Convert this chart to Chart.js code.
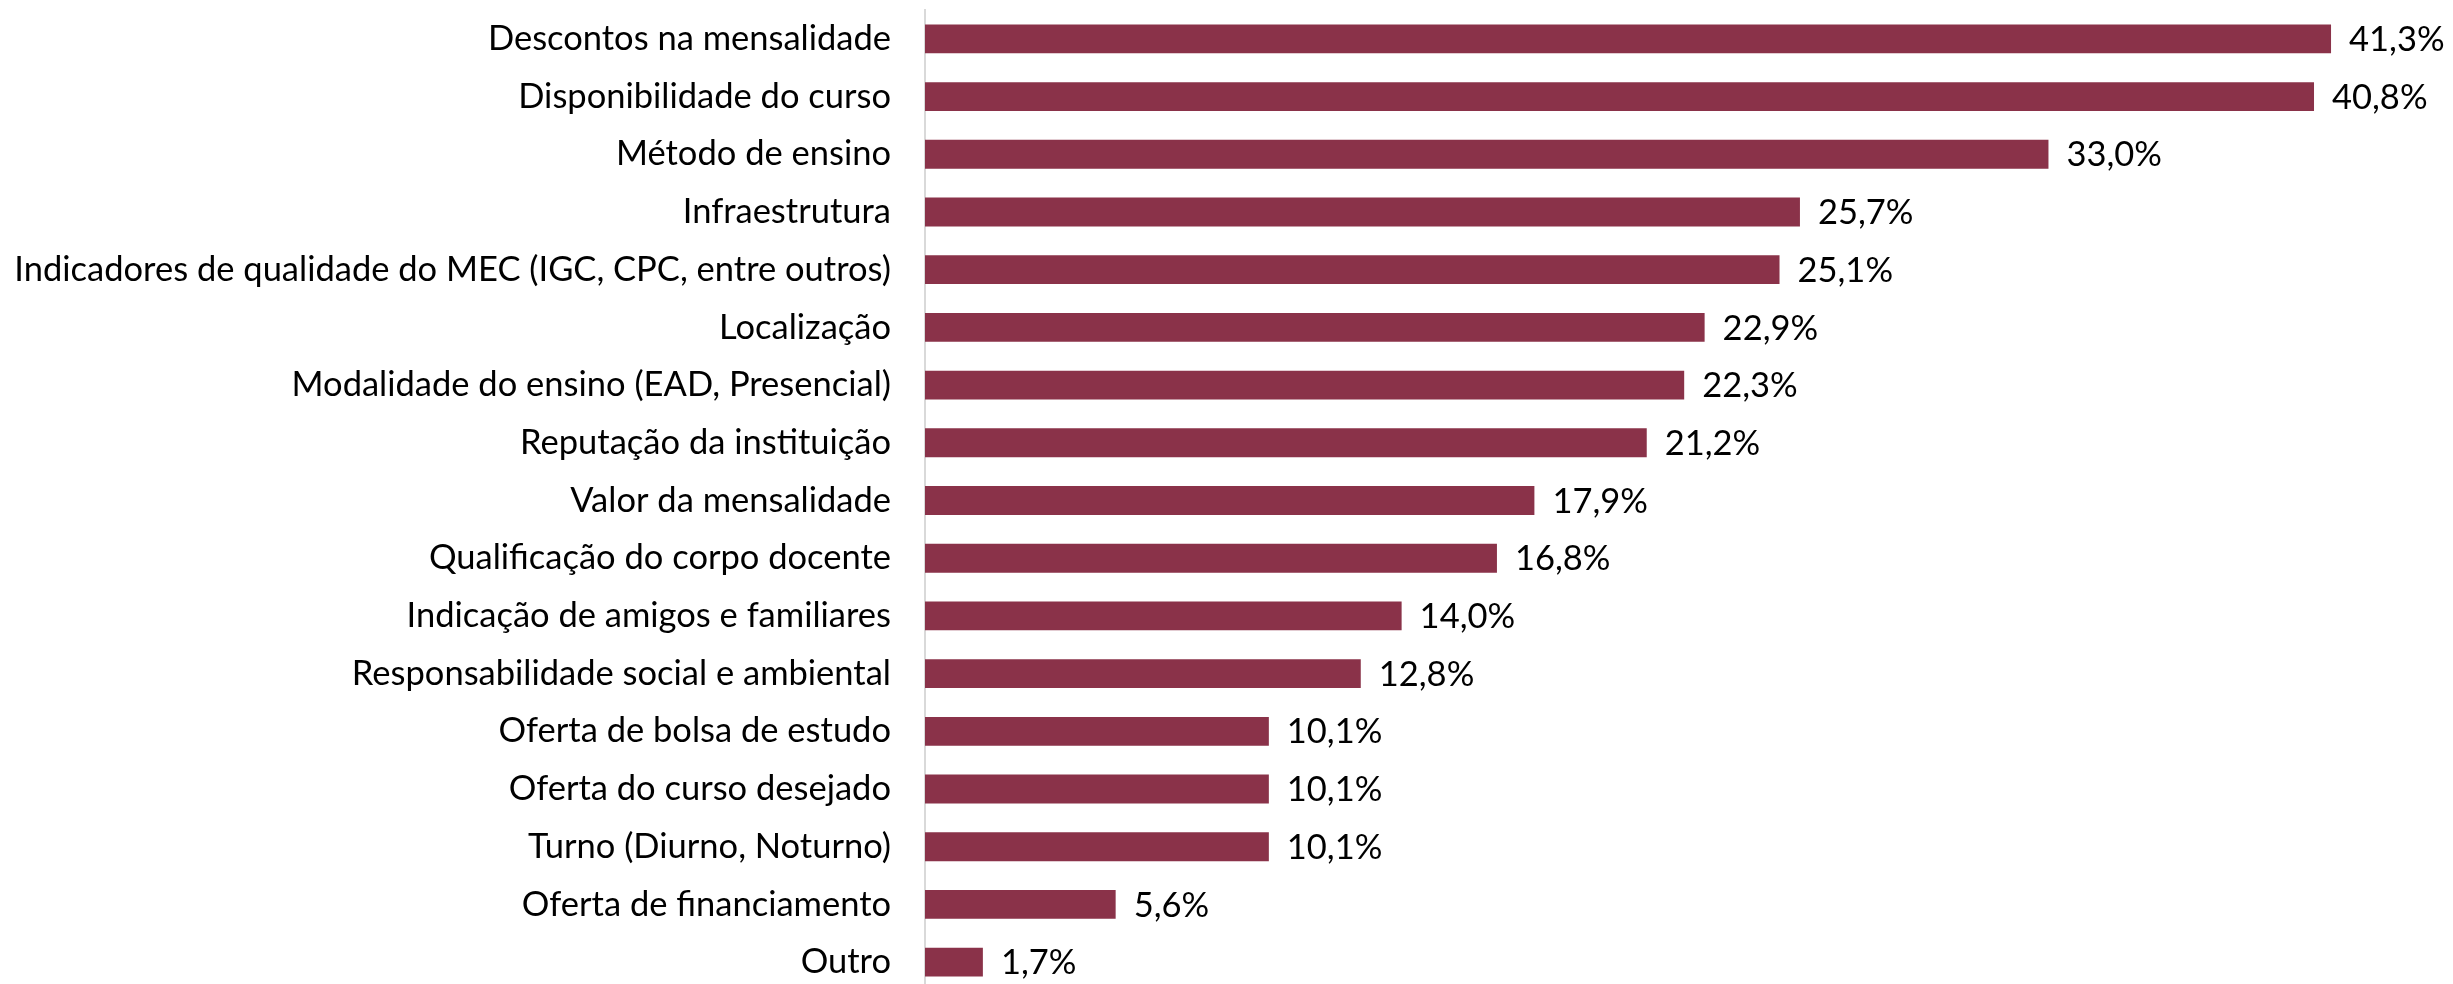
<!DOCTYPE html>
<html>
<head>
<meta charset="utf-8">
<script src="https://cdn.jsdelivr.net/npm/chart.js@4/dist/chart.umd.min.js"></script>
<style>
  html, body { margin: 0; padding: 0; background: #fff; overflow: hidden; }
  canvas { display: block; }
</style>
</head>
<body>
<canvas id="factorsChart" width="2457" height="992"></canvas>
<script>
const categories = [
  'Descontos na mensalidade',
  'Disponibilidade do curso',
  'Método de ensino',
  'Infraestrutura',
  'Indicadores de qualidade do MEC (IGC, CPC, entre outros)',
  'Localização',
  'Modalidade do ensino (EAD, Presencial)',
  'Reputação da instituição',
  'Valor da mensalidade',
  'Qualificação do corpo docente',
  'Indicação de amigos e familiares',
  'Responsabilidade social e ambiental',
  'Oferta de bolsa de estudo',
  'Oferta do curso desejado',
  'Turno (Diurno, Noturno)',
  'Oferta de financiamento',
  'Outro'
];
const percentages = [41.3, 40.8, 33.0, 25.7, 25.1, 22.9, 22.3, 21.2, 17.9, 16.8, 14.0, 12.8, 10.1, 10.1, 10.1, 5.6, 1.7];

const fontFamily = 'Lato, "Open Sans", sans-serif';
const fontSize = 34.5;

// draws the "41,3%" labels next to each bar
const valueLabels = {
  id: 'valueLabels',
  afterDatasetsDraw(chart) {
    const ctx = chart.ctx;
    const meta = chart.getDatasetMeta(0);
    ctx.save();
    ctx.font = fontSize + 'px ' + fontFamily;
    ctx.fillStyle = '#000';
    ctx.textAlign = 'left';
    ctx.textBaseline = 'middle';
    meta.data.forEach((bar, i) => {
      const txt = percentages[i].toFixed(1).replace('.', ',') + '%';
      ctx.fillText(txt, bar.x + 18, bar.y + 1);
    });
    ctx.restore();
  }
};

new Chart(document.getElementById('factorsChart'), {
  type: 'bar',
  data: {
    labels: categories,
    datasets: [{
      data: percentages,
      backgroundColor: '#8a3249',
      borderWidth: 0,
      categoryPercentage: 1,
      barPercentage: 0.5
    }]
  },
  options: {
    indexAxis: 'y',
    responsive: false,
    animation: false,
    layout: { padding: { top: 10, bottom: 1, left: 0, right: 0 } },
    plugins: {
      legend: { display: false },
      tooltip: { enabled: false }
    },
    scales: {
      x: {
        display: false,
        min: 0,
        max: 45
      },
      y: {
        grid: { display: false, drawTicks: false },
        border: { display: true, color: '#d9d9d9', width: 2 },
        ticks: {
          color: '#000',
          padding: 34,
          font: { family: fontFamily, size: fontSize }
        },
        afterFit(scale) {
          // fixed axis position, and no extra room above/below for tick padding
          scale.width = 925;
          scale.paddingTop = 0;
          scale.paddingBottom = 0;
        }
      }
    }
  },
  plugins: [valueLabels]
});
</script>
</body>
</html>
